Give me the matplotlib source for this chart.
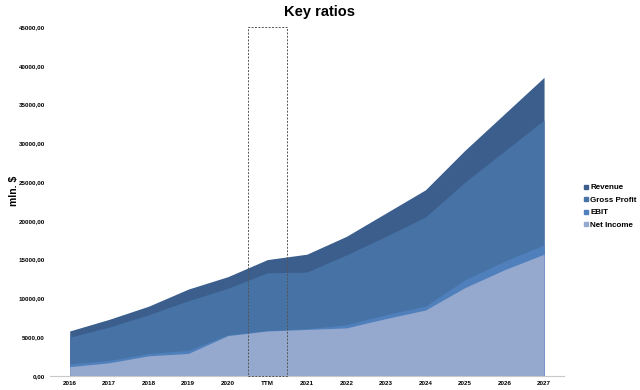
import matplotlib
matplotlib.use("Agg")
import matplotlib.pyplot as plt
from matplotlib.patches import Rectangle
from matplotlib.lines import Line2D

plt.rcParams["font.family"] = ["Liberation Sans", "DejaVu Sans"]

categories = ["2016", "2017", "2018", "2019", "2020", "TTM", "2021",
              "2022", "2023", "2024", "2025", "2026", "2027"]
revenue = [5800, 7300, 9000, 11200, 12800, 15000, 15700,
           18000, 21000, 24000, 29100, 33800, 38500]
gross_profit = [5000, 6300, 7900, 9700, 11300, 13300, 13400,
                15600, 18000, 20500, 25000, 29000, 33000]
ebit = [1550, 2000, 2900, 3300, 5300, 5850, 6100,
        6600, 7900, 9000, 12400, 14800, 16900]
net_income = [1200, 1700, 2600, 2900, 5200, 5800, 6000,
              6200, 7400, 8500, 11400, 13700, 15700]
yticks = [0, 5000, 10000, 15000, 20000, 25000, 30000, 35000, 40000, 45000]

series = [("Revenue", revenue, "#3B5E8C"),
          ("Gross Profit", gross_profit, "#4672A6"),
          ("EBIT", ebit, "#4F80BC"),
          ("Net Income", net_income, "#95A8CE")]

fig = plt.figure(figsize=(6.4, 3.9), dpi=100)
ax = fig.add_axes([0.078, 0.036, 0.803, 0.895])
x = list(range(len(categories)))
for name, vals, col in series:
    ax.fill_between(x, 0, vals, color=col, linewidth=0)

ax.set_xlim(-0.5, len(categories) - 0.5)
ax.set_ylim(0, 45000)
ax.set_xticks(x)
ax.set_xticklabels(categories, fontsize=4.5, fontweight="bold")
ax.set_yticks(yticks)
ax.set_yticklabels([f"{v:.2f}".replace(".", ",") for v in yticks],
                   fontsize=4.5, fontweight="bold")
ax.tick_params(axis="y", length=0, pad=3.5)
ax.tick_params(axis="x", length=0, pad=3.5)
for s in ["top", "right", "left"]:
    ax.spines[s].set_visible(False)
ax.spines["bottom"].set_color("#C8C8C8")
ax.spines["bottom"].set_linewidth(0.8)

ax.add_patch(Rectangle((4.5, 0), 1, 45000, fill=False, edgecolor="#555555",
                       linestyle=(0, (2, 1.5)), linewidth=0.7, clip_on=False,
                       zorder=5))

fig.text(0.5, 0.968, "Key ratios", ha="center", va="center",
         fontsize=10.5, fontweight="bold")
fig.text(0.022, 0.51, "mln. $", ha="center", va="center", rotation=90,
         fontsize=7.5, fontweight="bold")

handles = [Line2D([], [], marker="s", linestyle="none", markersize=2.8,
                  markerfacecolor=c, markeredgecolor=c) for _, _, c in series]
fig.legend(handles, [n for n, _, _ in series], loc="upper left",
           bbox_to_anchor=(0.906, 0.537), frameon=False,
           prop={"size": 5.8, "weight": "bold"}, handletextpad=0.1,
           labelspacing=0.6, handlelength=0.8, borderaxespad=0)

fig.savefig("out.png", dpi=100)
